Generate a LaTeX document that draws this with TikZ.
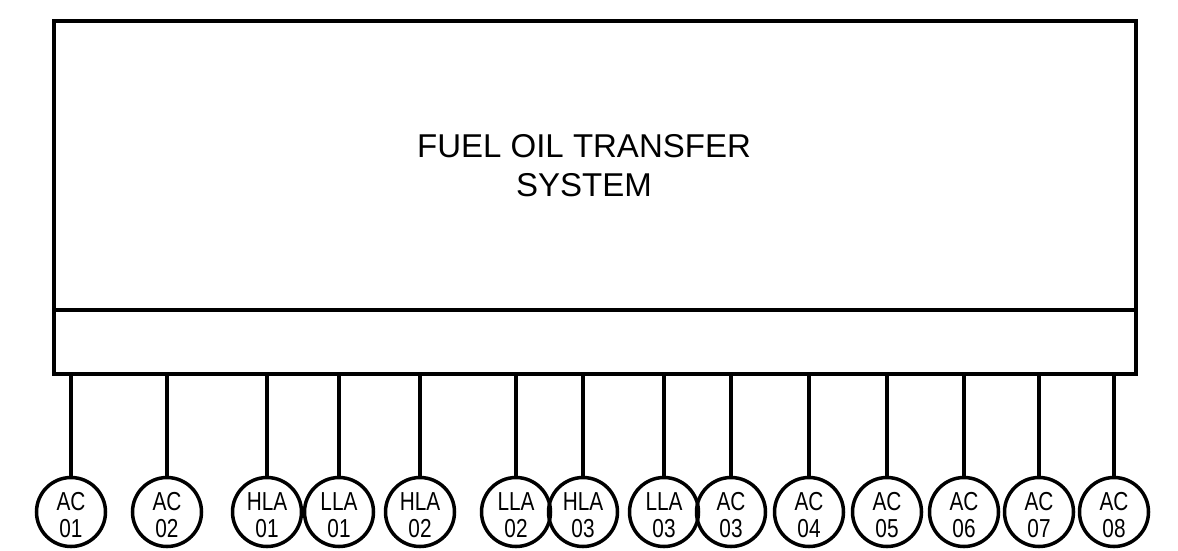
\documentclass[tikz,border=0pt]{standalone}
\usepackage{fontspec}
\setmainfont{Liberation Sans}
\newfontfamily\narrowfont[FakeStretch=0.8]{Liberation Sans}
\newcommand{\tagtext}[2]{\raisebox{-13pt}[0pt][0pt]{\begin{tabular}{@{}c@{}}#1\\#2\end{tabular}}}
\begin{document}
\begin{tikzpicture}[x=1pt,y=-1pt,
  sysbox/.style={draw,line width=3.5pt,minimum width=1082pt,minimum height=353pt,inner sep=0pt},
  tag/.style={draw,circle,line width=3.5pt,minimum size=69pt,inner sep=0pt,
    font=\narrowfont\fontsize{26pt}{27pt}\selectfont},
  wire/.style={line width=3.5pt}]
\useasboundingbox (0,0) rectangle (1178,550);
\node[sysbox] (sys) at (595,197.5) {};
\node[align=center,font=\fontsize{33pt}{39pt}\selectfont] (title) at (584,166) {FUEL OIL TRANSFER\\SYSTEM};
\coordinate (divl) at (54,310);
\coordinate (divr) at (1136,310);
\draw[wire] (divl) -- (divr);
\foreach \n/\x/\a/\b in {c1/71/AC/01, c2/167/AC/02, c3/267/HLA/01, c4/339/LLA/01, c5/420/HLA/02,
  c6/516/LLA/02, c7/583/HLA/03, c8/664/LLA/03, c9/731/AC/03, c10/809/AC/04, c11/887/AC/05,
  c12/964/AC/06, c13/1039/AC/07, c14/1114/AC/08}{
  \node[tag] (\n) at (\x,512) {\tagtext{\a}{\b}};
  \draw[wire] (\n.north) -- (\n |- sys.south);
}
\end{tikzpicture}
\end{document}
